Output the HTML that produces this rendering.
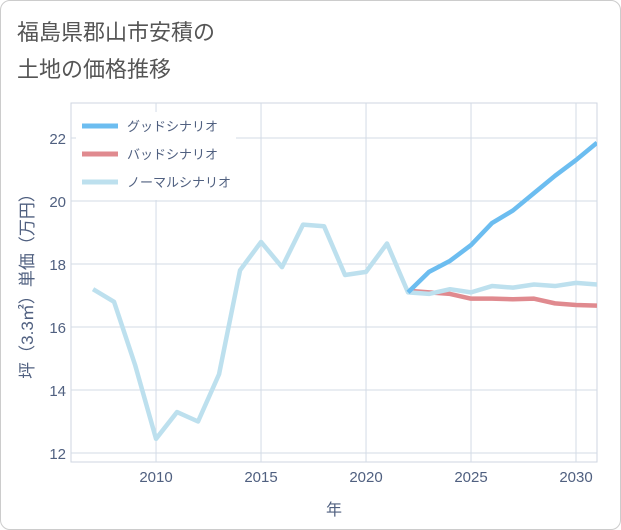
<!DOCTYPE html>
<html><head><meta charset="utf-8"><style>
body{margin:0;background:#fff;}
#card{position:absolute;left:0;top:0;width:619px;height:528px;border:1px solid #ccc;border-radius:10px;background:#fff;}
.t{font-family:"Liberation Sans","Noto Sans CJK JP",sans-serif;}
</style></head><body>
<div id="card"></div>
<svg id="c" width="621" height="530" style="position:absolute;left:0;top:0">
<text class="t" x="17" y="40" font-size="22" fill="#555">福島県郡山市安積の</text>
<text class="t" x="17" y="77" font-size="22" fill="#555">土地の価格推移</text>
<g id="grid"></g><g id="series"></g><g id="legend"></g>
<text class="t" x="334" y="515" font-size="16" fill="#506080" text-anchor="middle">年</text>
<text class="t" transform="translate(33,282) rotate(-90)" font-size="17" fill="#506080" text-anchor="middle">坪（3.3㎡）単価（万円）</text>
</svg>
<script>
const years=[2007,2008,2009,2010,2011,2012,2013,2014,2015,2016,2017,2018,2019,2020,2021,2022,2023,2024,2025,2026,2027,2028,2029,2030,2031];
const normal=[17.2,16.8,14.8,12.45,13.3,13.0,14.5,17.8,18.7,17.9,19.25,19.2,17.65,17.75,18.65,17.1,17.05,17.2,17.1,17.3,17.25,17.35,17.3,17.4,17.35];
const fyears=[2022,2023,2024,2025,2026,2027,2028,2029,2030,2031];
const good=[17.1,17.75,18.1,18.6,19.3,19.7,20.25,20.8,21.3,21.85];
const bad=[17.15,17.1,17.05,16.9,16.9,16.88,16.9,16.75,16.7,16.68];
const xTicks=[2010,2015,2020,2025,2030];
const yTicks=[12,14,16,18,20,22];
const L=71,R=597,T=103,B=462;
const x=v=>L+(v-2005.95)*(R-L)/(2031-2005.95);
const y=v=>453-(v-12)*31.5;
const NS="http://www.w3.org/2000/svg";
function mk(p,tag,a){const e=document.createElementNS(NS,tag);for(const k in a)e.setAttribute(k,a[k]);p.appendChild(e);return e;}
const g=document.getElementById('grid');
const bg=mk(g,'rect',{x:L,y:T,width:R-L,height:B-T,fill:'#fff',stroke:'#cfd6e0'});

xTicks.forEach(v=>{const l=mk(g,'line',{x1:x(v),x2:x(v),y1:T,y2:B,stroke:'#d3dbe6'});

const t=mk(g,'text',{x:x(v),y:482,'font-size':15,fill:'#506080','text-anchor':'middle',class:'t'});t.textContent=v;
});
yTicks.forEach(v=>{const l=mk(g,'line',{x1:L,x2:R,y1:y(v),y2:y(v),stroke:'#d3dbe6'});

const t=mk(g,'text',{x:66,y:y(v)+6,'font-size':15,fill:'#506080','text-anchor':'end',class:'t'});t.textContent=v;
});
const s=document.getElementById('series');
const cp=mk(s,'clipPath',{id:'cp'});mk(cp,'rect',{x:L,y:T,width:R-L,height:B-T});
function line(xs,ys,col,name){const p=mk(s,'polyline',{points:xs.map((v,i)=>x(v)+','+y(ys[i])).join(' '),fill:'none',stroke:col,'stroke-width':4.5,'stroke-linejoin':'round','clip-path':'url(#cp)'});
}
line(fyears,bad,'#e08a8f','bad-scenario-line');
line(years,normal,'#bde0ee','normal-scenario-line');
line(fyears,good,'#6cbdf0','good-scenario-line');
const lg=document.getElementById('legend');
const lb=mk(lg,'rect',{x:76,y:112,width:160,height:88,fill:'#fff'});

[['グッドシナリオ','#6cbdf0'],['バッドシナリオ','#e08a8f'],['ノーマルシナリオ','#bde0ee']].forEach((d,i)=>{
const yy=126+i*28;const gg=mk(lg,'g',{});
mk(gg,'line',{x1:82,x2:118,y1:yy,y2:yy,stroke:d[1],'stroke-width':5});
const t=mk(gg,'text',{x:127,y:yy+5,'font-size':13,fill:'#506080',class:'t'});t.textContent=d[0];});
</script>
</body></html>
